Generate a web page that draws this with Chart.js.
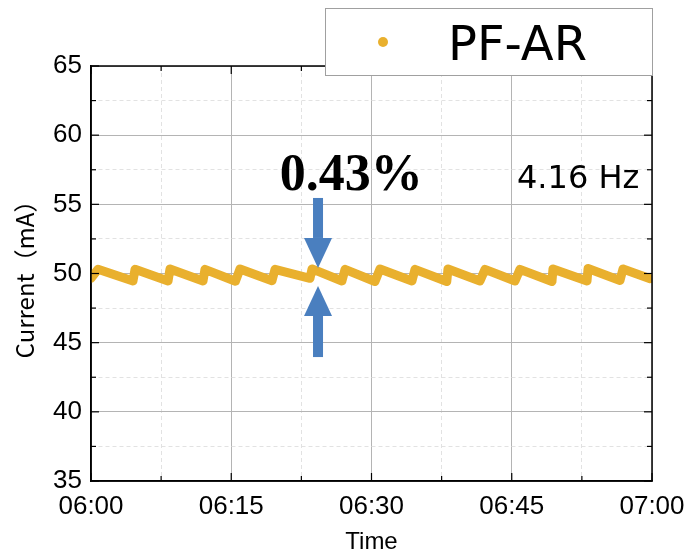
<!DOCTYPE html>
<html>
<head>
<meta charset="utf-8">
<script src="https://cdn.jsdelivr.net/npm/chart.js@4.4.1/dist/chart.umd.min.js"></script>
<style>
  html, body { margin: 0; padding: 0; background: #fff; }
  #wrap { width: 688px; height: 555px; }
</style>
</head>
<body>
<div id="wrap"><canvas id="corriente"></canvas></div>
<script>
// serie PF-AR: minutos desde las 06:00 y corriente (mA), vertices del diente de sierra
const seriesName = "PF-AR";
const minutes = [0.0, 0.75, 4.49, 4.71, 8.24, 8.45, 11.98, 12.19, 15.45, 15.94, 19.36, 19.68,
  23.42, 23.64, 26.84, 27.17, 30.37, 30.91, 34.33, 34.65, 38.05, 38.18, 41.6, 42.14,
  45.35, 45.88, 49.3, 49.41, 53.05, 53.16, 56.58, 56.9, 59.8];
const current = [49.65, 50.3, 49.46, 50.3, 49.46, 50.33, 49.46, 50.3, 49.44, 50.33, 49.48, 50.3,
  49.65, 50.33, 49.46, 50.3, 49.42, 50.33, 49.46, 50.3, 49.42, 50.33, 49.46, 50.3,
  49.46, 50.3, 49.42, 50.33, 49.46, 50.36, 49.5, 50.33, 49.62];
const timeLabels = ["06:00", "06:15", "06:30", "06:45", "07:00"];
const currentTicks = [35, 40, 45, 50, 55, 60, 65];
const rippleText = "0.43%";
const freqText = "4.16 Hz";

const naranja = "#e9b02e";
const azul = "#4a7fbf";

function linea(ctx, x1, y1, x2, y2) {
  ctx.beginPath();
  ctx.moveTo(x1, y1);
  ctx.lineTo(x2, y2);
  ctx.stroke();
}

// flecha vertical: desde "from" hasta la punta "to" (pixeles)
function flecha(ctx, x, from, to) {
  const dir = to > from ? 1 : -1;
  const head = 30, half = 14, shaft = 5;
  const base = to - dir * head;
  ctx.fillStyle = azul;
  ctx.fillRect(x - shaft, Math.min(from, base), shaft * 2, Math.abs(base - from));
  ctx.beginPath();
  ctx.moveTo(x - half, base);
  ctx.lineTo(x + half, base);
  ctx.lineTo(x, to);
  ctx.closePath();
  ctx.fill();
}

const decor = {
  id: "decor",
  afterDatasetsDraw(chart) {
    const { ctx, chartArea: a, scales: { x, y } } = chart;
    ctx.save();
    ctx.strokeStyle = "#000";
    ctx.lineWidth = 1.5;
    ctx.strokeRect(a.left, a.top, a.right - a.left, a.bottom - a.top);
    ctx.lineWidth = 1.2;
    x.ticks.forEach(t => {
      const px = x.getPixelForValue(t.value);
      const len = t.value % 15 === 0 ? 8 : 5;
      linea(ctx, px, a.bottom, px, a.bottom - len);
      linea(ctx, px, a.top, px, a.top + len);
    });
    y.ticks.forEach(t => {
      const py = y.getPixelForValue(t.value);
      const len = t.value % 5 === 0 ? 8 : 5;
      linea(ctx, a.left, py, a.left + len, py);
      linea(ctx, a.right, py, a.right - len, py);
    });

    // flechas del rizado
    const ax = x.getPixelForValue(24.28);
    flecha(ctx, ax, y.getPixelForValue(55.46), y.getPixelForValue(50.4));
    flecha(ctx, ax, y.getPixelForValue(43.96), y.getPixelForValue(49.1));

    ctx.fillStyle = "#000";
    ctx.textBaseline = "alphabetic";
    ctx.textAlign = "left";
    ctx.font = "bold 52px 'Liberation Serif'";
    ctx.fillText(rippleText, x.getPixelForValue(20.2), y.getPixelForValue(56.04));
    ctx.font = "32px 'DejaVu Sans'";
    ctx.fillText(freqText, x.getPixelForValue(45.56), y.getPixelForValue(56.18));
    ctx.restore();
  },
  afterDraw(chart) {
    const { ctx } = chart;
    const ds = chart.data.datasets[0];
    ctx.save();
    ctx.fillStyle = "#fff";
    ctx.fillRect(325, 8, 327, 67);
    ctx.strokeStyle = "#a0a0a0";
    ctx.lineWidth = 1;
    ctx.strokeRect(325.5, 8.5, 327, 67);
    ctx.fillStyle = ds.borderColor;
    ctx.beginPath();
    ctx.arc(383, 42, 5, 0, Math.PI * 2);
    ctx.fill();
    ctx.fillStyle = "#000";
    ctx.font = "48px 'DejaVu Sans'";
    ctx.textBaseline = "alphabetic";
    ctx.fillText(ds.label, 448, 60);
    ctx.restore();
  }
};

const ctx = document.getElementById("corriente");
new Chart(ctx, {
  type: "scatter",
  data: {
    datasets: [
      {
        label: seriesName,
        data: minutes.map((m, i) => ({ x: m, y: current[i] })),
        showLine: true,
        borderColor: naranja,
        backgroundColor: naranja,
        borderWidth: 9,
        borderCapStyle: "round",
        borderJoinStyle: "round",
        pointRadius: 0,
        tension: 0,
      },
    ],
  },
  options: {
    responsive: true,
    maintainAspectRatio: false,
    animation: false,
    devicePixelRatio: 1,
    layout: { padding: { top: 66, right: 36, left: 0, bottom: 0 } },
    plugins: {
      legend: { display: false },
      tooltip: { enabled: false },
    },
    scales: {
      x: {
        type: "linear",
        min: 0,
        max: 60,
        afterFit: s => { s.height = 74; s.paddingLeft = 0; s.paddingRight = 0; },
        ticks: {
          stepSize: 7.5,
          autoSkip: false,
          maxRotation: 0,
          padding: 10,
          color: "#000",
          font: { family: "'Liberation Sans', Arial", size: 26 },
          callback: v => (v % 15 === 0 ? timeLabels[v / 15] : ""),
        },
        grid: {
          drawTicks: false,
          color: c => (c.tick && c.tick.value % 15 === 0 ? "#b4b4b4" : "#e2e2e2"),
          lineWidth: 1,
        },
        border: {
          display: true,
          color: "#000",
          width: 1.5,
          dash: c => (c.tick && c.tick.value % 15 !== 0 ? [4, 3] : []),
        },
        title: {
          display: true,
          text: "Time",
          color: "#000",
          font: { family: "'Liberation Sans', Arial", size: 24 },
          padding: { top: 0, bottom: -2 },
        },
      },
      y: {
        min: 35,
        max: 65,
        afterFit: s => { s.width = 91; },
        ticks: {
          stepSize: 2.5,
          autoSkip: false,
          padding: 9,
          color: "#000",
          font: { family: "'Liberation Sans', Arial", size: 26 },
          callback: v => (currentTicks.includes(v) ? String(v) : ""),
        },
        grid: {
          drawTicks: false,
          color: c => (c.tick && c.tick.value % 5 === 0 ? "#b4b4b4" : "#e2e2e2"),
          lineWidth: 1,
        },
        border: {
          display: true,
          color: "#000",
          width: 1.5,
          dash: c => (c.tick && c.tick.value % 5 !== 0 ? [4, 3] : []),
        },
        title: {
          display: true,
          text: "Current（mA）",
          color: "#000",
          font: { family: "'Noto Sans CJK JP', 'Noto Sans'", size: 24 },
          padding: { top: 10, bottom: 0 },
        },
      },
    },
  },
  plugins: [decor],
});
</script>
</body>
</html>
